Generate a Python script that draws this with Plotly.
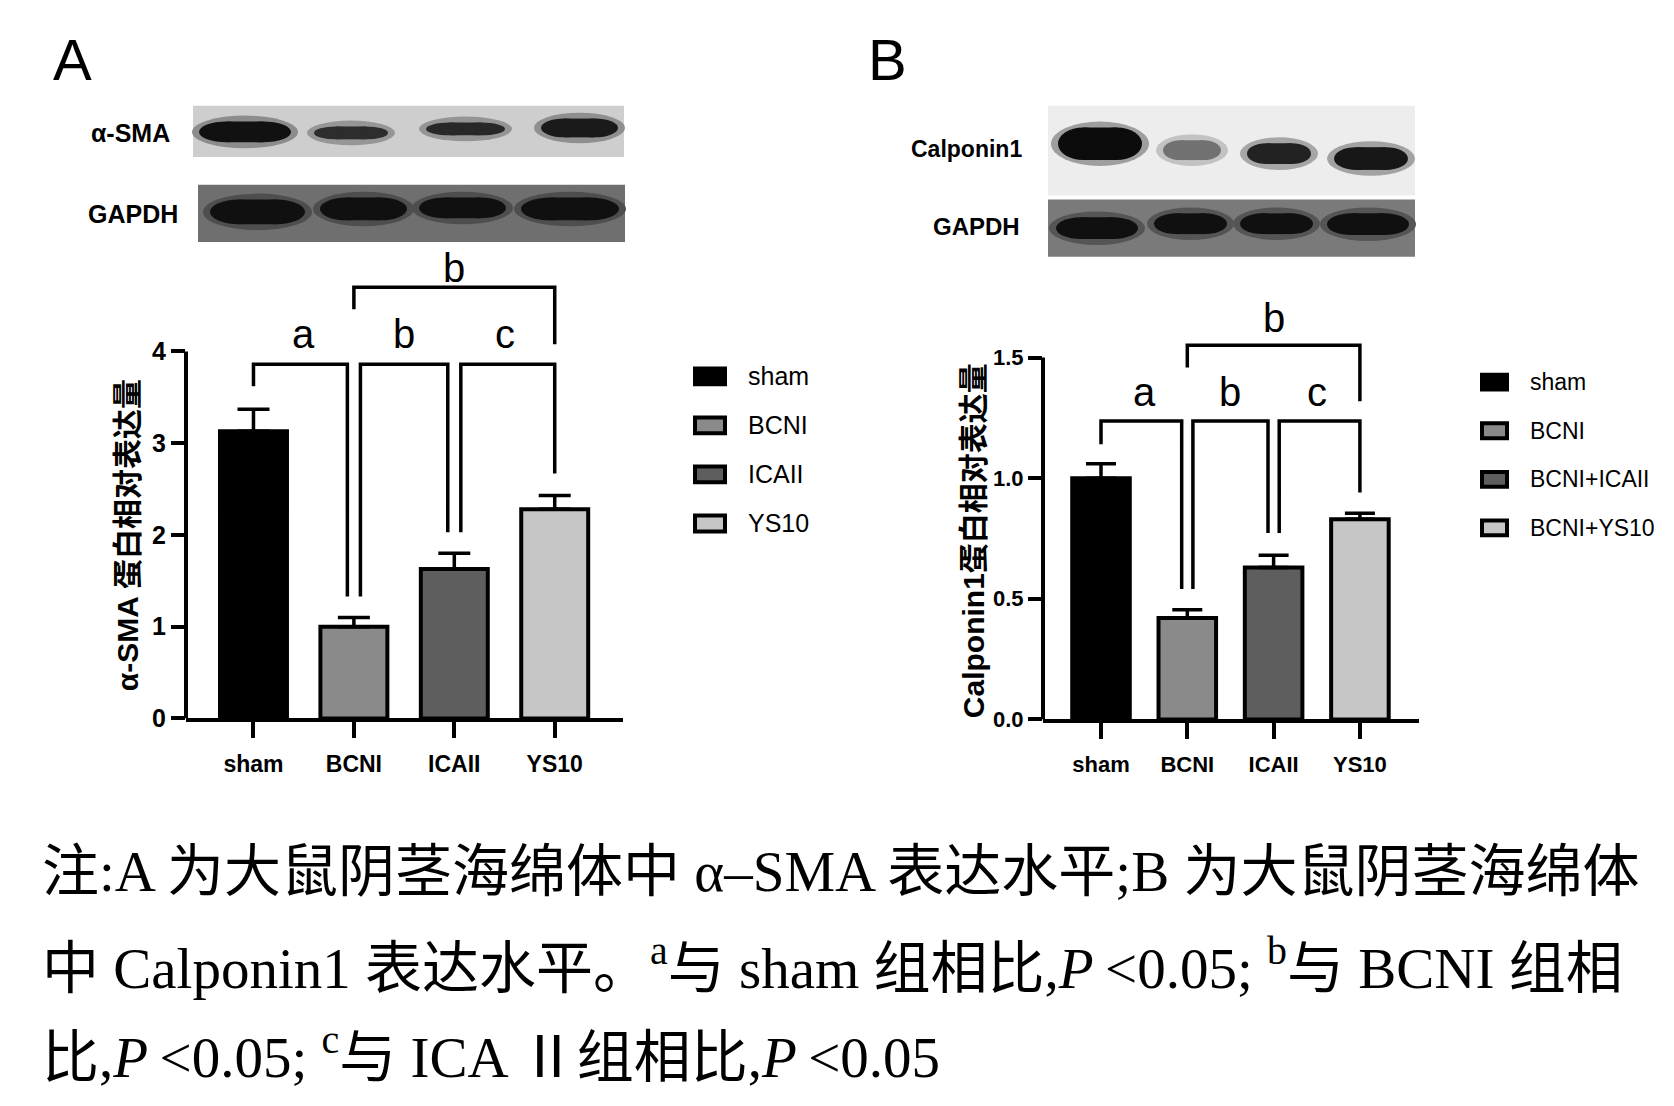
import plotly.graph_objects as go

W, H = 1674, 1106

# ----- values -----
groups = ["sham", "BCNI", "ICAII", "YS10"]
legend_a = ["sham", "BCNI", "ICAII", "YS10"]
legend_b = ["sham", "BCNI", "BCNI+ICAII", "BCNI+YS10"]

sma_mean = [3.13, 1.00, 1.63, 2.28]
sma_sd = [0.24, 0.10, 0.17, 0.15]
cnn1_mean = [1.00, 0.42, 0.63, 0.83]
cnn1_sd = [0.06, 0.035, 0.05, 0.025]

sma_ticks = [0, 1, 2, 3, 4]
cnn1_ticks = [0.0, 0.5, 1.0, 1.5]

# brackets: (left group, right group, letter, bracket top, left leg end, right leg end)
sma_sig = [
    (0, 1, "a", 3.86, 3.62, 1.33),
    (1, 2, "b", 3.86, 1.33, 2.03),
    (2, 3, "c", 3.86, 2.03, 2.67),
    (1, 3, "b", 4.70, 4.46, 4.08),
]
sma_sig_text_y = [4.19, 4.19, 4.19, 4.91]
cnn1_sig = [
    (0, 1, "a", 1.237, 1.141, 0.541),
    (1, 2, "b", 1.237, 0.541, 0.773),
    (2, 3, "c", 1.237, 0.773, 0.941),
    (1, 3, "b", 1.551, 1.459, 1.319),
]
cnn1_sig_text_y = [1.357, 1.357, 1.357, 1.664]

# relative band darkness of the western blot lanes
sma_band = [1.0, 0.85, 0.88, 0.95]
gapdh_a_band = [1.0, 1.0, 1.0, 1.0]
cnn1_band = [1.0, 0.55, 0.9, 0.95]
gapdh_b_band = [1.0, 1.0, 1.0, 1.0]

bar_colors = ["#000000", "#8a8a8a", "#5e5e5e", "#c6c6c6"]

caption = [
    "注:A 为大鼠阴茎海绵体中 α–SMA 表达水平;B 为大鼠阴茎海绵体",
    "中 Calponin1 表达水平。<sup>a</sup>与 sham 组相比,<i>P</i>\u2009&lt;0.05; <sup>b</sup>与 BCNI 组相",
    "比,<i>P</i>\u2009&lt;0.05; <sup>c</sup>与 ICA Ⅱ组相比,<i>P</i>\u2009&lt;0.05",
]

SANS = "Liberation Sans, Arial, Noto Sans CJK SC, sans-serif"
SERIF = "Liberation Serif, Times New Roman, Noto Sans CJK SC, serif"


def px(x):
    return x / W


def py(y):
    return 1 - y / H


def mix(c0, c1, t):
    a = [int(c0[i:i + 2], 16) for i in (1, 3, 5)]
    b = [int(c1[i:i + 2], 16) for i in (1, 3, 5)]
    return "#%02x%02x%02x" % tuple(round(u + (v - u) * t) for u, v in zip(a, b))


fig = go.Figure()


def label(x, y, text, size, xanchor="center", bold=False, family=SANS, angle=0):
    fig.add_annotation(x=px(x), y=py(y), xref="paper", yref="paper", text=text,
                       showarrow=False, xanchor=xanchor, yanchor="middle",
                       textangle=angle,
                       font=dict(family=family, size=size, color="black",
                                 weight="bold" if bold else "normal"))


def add_panel(n, means, sds, ticks, sig, sig_text_y, cap, x_dom, y0_px, unit_px, top,
              tickfmt, cat_size, num_size):
    xa = "x" if n == 1 else "x%d" % n
    ya = "y" if n == 1 else "y%d" % n
    fig.add_trace(go.Bar(
        x=list(range(len(groups))), y=means, xaxis=xa, yaxis=ya,
        width=0.667,
        marker=dict(color=bar_colors, line=dict(color="black", width=4)),
        error_y=dict(type="data", symmetric=False, array=sds,
                     arrayminus=[0] * len(sds), color="black",
                     thickness=3.5, width=cap),
        hoverinfo="skip",
    ))
    top_px = y0_px - top * unit_px
    fig.update_layout(**{
        ("xaxis" if n == 1 else "xaxis%d" % n): dict(
            domain=[px(x_dom[0]), px(x_dom[1])], range=[-0.672, 3.68],
            anchor=ya, showline=True, linecolor="black", linewidth=4,
            ticks="outside", ticklen=16, tickwidth=3.5, tickcolor="black",
            tickvals=list(range(len(groups))), ticktext=groups,
            tickfont=dict(family=SANS, size=cat_size, color="black", weight="bold"),
            ticklabelstandoff=6,
            showgrid=False, zeroline=False, fixedrange=True,
        ),
        ("yaxis" if n == 1 else "yaxis%d" % n): dict(
            domain=[py(y0_px), py(top_px)], range=[0, top],
            anchor=xa, showline=False,
            ticks="outside", ticklen=14, tickwidth=3.5, tickcolor="black",
            tickvals=ticks, tickformat=tickfmt,
            tickfont=dict(family=SANS, size=num_size, color="black", weight="bold"),
            ticklabelstandoff=0,
            showgrid=False, zeroline=False, fixedrange=True,
        ),
    })
    # y axis line stops at the top tick
    fig.add_shape(type="line", xref=xa + " domain", x0=0, x1=0, yref=ya,
                  y0=0, y1=ticks[-1], line=dict(color="black", width=4))
    gap = 0.065
    for i, ((g0, g1, letter, ytop, yl, yr), ty) in enumerate(zip(sig, sig_text_y)):
        short = i < len(sig) - 1
        x0 = g0 + (gap if short and g0 > 0 else 0)
        x1 = g1 - (gap if short and g1 < len(groups) - 1 else 0)
        fig.add_shape(type="path", xref=xa, yref=ya,
                      path="M %s,%s L %s,%s L %s,%s L %s,%s" % (x0, yl, x0, ytop, x1, ytop, x1, yr),
                      line=dict(color="black", width=3.5))
        fig.add_annotation(x=(g0 + g1) / 2, y=ty, xref=xa, yref=ya, text=letter,
                           showarrow=False, xanchor="center", yanchor="middle",
                           font=dict(family=SANS, size=40, color="black"))


add_panel(1, sma_mean, sma_sd, sma_ticks, sma_sig, sma_sig_text_y, 16,
          (178, 615), 719.5, 92.9, 5.2, "d", 23, 25)
add_panel(2, cnn1_mean, cnn1_sd, cnn1_ticks, cnn1_sig, cnn1_sig_text_y, 15,
          (1035, 1410.6), 720.5, 244.3, 1.75, ".1f", 22, 22)

# y axis titles
label(119, 534, "α-SMA 蛋白相对表达量", 30, bold=True, angle=-90)
label(965, 540, "Calponin1蛋白相对表达量", 30, bold=True, angle=-90)


# legends
def add_legend(names, x_box, y_first, step, box_w, box_h, size):
    for i, (name, col) in enumerate(zip(names, bar_colors)):
        yc = y_first + i * step
        fig.add_shape(type="rect", xref="paper", yref="paper",
                      x0=px(x_box + 2), x1=px(x_box + box_w - 2),
                      y0=py(yc + box_h / 2 - 2), y1=py(yc - box_h / 2 + 2),
                      fillcolor=col, line=dict(color="black", width=4))
        label(x_box + box_w + 19, yc, name, size, xanchor="left")


add_legend(legend_a, 685, 373, 49.7, 34, 20, 25)
add_legend(legend_b, 1472, 379, 49.2, 29, 19, 23)


# western blot strips: soft halo plus a capsule-shaped band per lane
def add_blot(strip, bg, bands, darkness, ink):
    fig.add_shape(type="rect", xref="paper", yref="paper",
                  x0=px(strip[0]), x1=px(strip[2]), y0=py(strip[3]), y1=py(strip[1]),
                  fillcolor=bg, line=dict(width=0), layer="below")
    for (bx0, by0, bx1, by1), d in zip(bands, darkness):
        w = bx1 - bx0
        halo = mix(bg, ink, 0.35 * d)
        core = mix(bg, ink, d)
        fig.add_shape(type="circle", xref="paper", yref="paper",
                      x0=px(bx0 - 7), x1=px(bx1 + 7), y0=py(by1 + 6), y1=py(by0 - 6),
                      fillcolor=halo, line=dict(width=0))
        for cx0, cx1 in [(bx0, bx0 + 0.6 * w), (bx1 - 0.6 * w, bx1)]:
            fig.add_shape(type="circle", xref="paper", yref="paper",
                          x0=px(cx0), x1=px(cx1), y0=py(by1), y1=py(by0),
                          fillcolor=core, line=dict(width=0))
        fig.add_shape(type="rect", xref="paper", yref="paper",
                      x0=px(bx0 + 0.3 * w), x1=px(bx1 - 0.3 * w), y0=py(by1), y1=py(by0),
                      fillcolor=core, line=dict(width=0))


add_blot((185, 99, 616, 151), "#cecece",
         [(191, 115, 283, 136), (306, 120, 380, 133), (418, 116, 497, 129), (533, 112, 610, 131)],
         sma_band, "#111111")
add_blot((190, 179, 617, 237), "#6f6f6f",
         [(202, 194, 297, 219), (312, 192, 399, 215), (411, 192, 498, 213), (513, 192, 611, 215)],
         gapdh_a_band, "#101010")
add_blot((1040, 99, 1407, 190), "#ededed",
         [(1050, 121, 1134, 154), (1155, 134, 1213, 154), (1239, 137, 1303, 158), (1326, 141, 1400, 164)],
         cnn1_band, "#0c0c0c")
add_blot((1040, 194, 1407, 252), "#7a7a7a",
         [(1048, 212, 1130, 234), (1146, 208, 1219, 229), (1232, 208, 1305, 229), (1319, 208, 1401, 230)],
         gapdh_b_band, "#101010")

label(164, 127, "α-SMA", 25, xanchor="right", bold=True)
label(172, 209, "GAPDH", 25, xanchor="right", bold=True)
label(1016, 143, "Calponin1", 23, xanchor="right", bold=True)
label(1014, 221, "GAPDH", 24, xanchor="right", bold=True)

# panel letters
label(43, 52, "A", 58, xanchor="left")
label(858, 52, "B", 58, xanchor="left")

# caption under the figure
for line, yc in zip(caption, [875, 968, 1058]):
    label(32, yc, line, 57, xanchor="left", family=SERIF)

fig.update_layout(
    width=W, height=H,
    margin=dict(l=0, r=0, t=0, b=0),
    paper_bgcolor="white", plot_bgcolor="white",
    showlegend=False, barmode="overlay",
)

fig.write_html("out.html")
